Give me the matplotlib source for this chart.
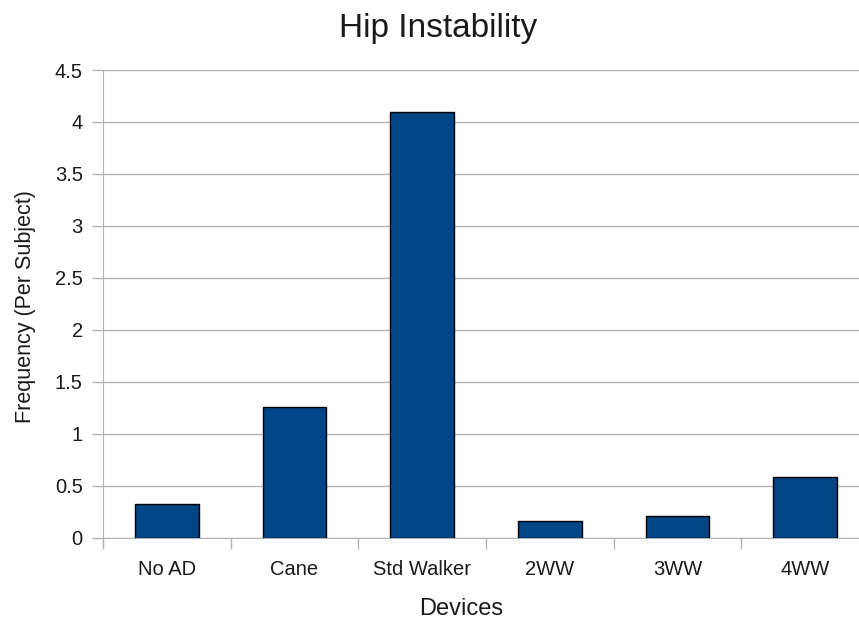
import numpy as np
import matplotlib
matplotlib.use('Agg')
from matplotlib import pyplot as plt

devices = ['No AD', 'Cane', 'Std Walker', '2WW', '3WW', '4WW']
frequency = [0.32, 1.26, 4.1, 0.16, 0.21, 0.58]
y_ticks = [0, 0.5, 1, 1.5, 2, 2.5, 3, 3.5, 4, 4.5]
y_labels = ['0', '0.5', '1', '1.5', '2', '2.5', '3', '3.5', '4', '4.5']

plt.rcParams['font.family'] = ['Liberation Sans', 'DejaVu Sans']

fig = plt.figure(figsize=(8.59, 6.2), dpi=100)
# plot area runs a bit past the right edge, as in the original export
ax = fig.add_axes([103 / 859, 82.5 / 620, 766 / 859, 467.5 / 620])

x = np.arange(len(devices))
ax.bar(x, frequency, width=0.5, color='#004586', edgecolor='black', linewidth=1, zorder=3)

ax.set_xlim(-0.5, len(devices) - 0.5)
ax.set_ylim(0, 4.5)
ax.set_yticks(y_ticks)
ax.set_yticklabels(y_labels)
ax.grid(axis='y', color='#b3b3b3', linewidth=1, zorder=0)

ax.set_xticks(x)
ax.set_xticklabels(devices)
ax.set_xticks(np.arange(len(devices) + 1) - 0.5, minor=True)
ax.tick_params(axis='x', which='major', length=0, pad=16, labelsize=14.5, colors='#1a1a1a')
ax.tick_params(axis='x', which='minor', length=8, width=1, color='#b3b3b3')
ax.tick_params(axis='y', length=8, width=1, color='#b3b3b3', pad=6.5, labelsize=14.5, labelcolor='#1a1a1a')

for side in ['top', 'right']:
    ax.spines[side].set_visible(False)
ax.spines['left'].set_color('#b3b3b3')
ax.spines['bottom'].set_color('#b3b3b3')

ax.set_ylabel('Frequency (Per Subject)', fontsize=15.5, color='#1a1a1a')
ax.yaxis.set_label_coords(-0.087, 0.494)

fig.text(461 / 859, 1 - 615 / 620, 'Devices', ha='center', va='baseline', fontsize=17, color='#1a1a1a')
fig.text(438 / 859, 1 - 37 / 620, 'Hip Instability', ha='center', va='baseline', fontsize=24, color='#1a1a1a')

fig.savefig('out.png', dpi=100)
